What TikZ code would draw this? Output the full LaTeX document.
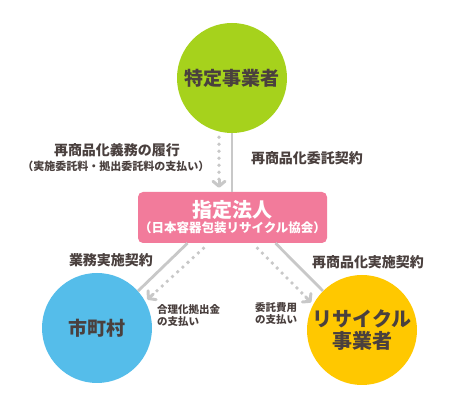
\documentclass[tikz,border=0pt]{standalone}
\usepackage{fontspec}
\setmainfont{Noto Sans CJK JP}
\usetikzlibrary{arrows.meta,calc}
\definecolor{linegray}{HTML}{C8C8C8}
\definecolor{textbrown}{HTML}{4A403E}
\definecolor{makergreen}{HTML}{A6D21C}
\definecolor{cityblue}{HTML}{55BDEA}
\definecolor{recyclerorange}{HTML}{FFC800}
\definecolor{corppink}{HTML}{F27B9B}

\begin{document}
\begin{tikzpicture}[x=1pt,y=-1pt,
  actor/.style={circle, minimum size=110pt, inner sep=0pt, align=center,
    text=textbrown, font=\fontsize{19}{22}\selectfont\bfseries},
  solidline/.style={draw=linegray, line width=2.8pt},
  dotline/.style={draw=linegray, line width=3.8pt, line cap=round,
    dash pattern=on 0pt off 7pt},
  tipline/.style={draw=linegray, line width=3pt, solid, line cap=round,
    -{Straight Barb[length=5pt,width=12pt,round]}},
  note/.style={text=textbrown, align=center, inner sep=0pt},
  ]
\useasboundingbox (0,0) rectangle (467,411);

% the four parties
\node[actor, fill=makergreen] (tokutei) at (232,78) {特定事業者};
\node[actor, fill=cityblue] (shicho) at (97,328) {市町村};
\node[actor, fill=recyclerorange, font=\fontsize{20}{22}\selectfont\bfseries] (recycler) at (362,330) {リサイクル\\事業者};
\node[fill=corppink, rounded corners=5pt, minimum width=189pt, minimum height=51pt,
  align=center, text=white, inner sep=0pt] (hojin) at (232.5,217.5)
  {{\fontsize{20}{24}\selectfont\bfseries 指定法人}\\[1pt]
   {\fontsize{12.5}{14}\selectfont\bfseries （日本容器包装リサイクル協会）}};

% connectors
\coordinate (pay-top-a) at ([xshift=-13pt,yshift=-4pt]tokutei.south);
\coordinate (pay-top-b) at ([xshift=-13.5pt,yshift=4pt]hojin.north);
\coordinate (pay-left-a) at ([xshift=-29pt,yshift=-5pt]hojin.south);
\coordinate (pay-left-b) at ([xshift=3pt]shicho.31);
\coordinate (pay-right-a) at ([xshift=25pt,yshift=-5pt]hojin.south);
\coordinate (pay-right-b) at ([xshift=-3pt]recycler.150);

\draw[solidline] (tokutei.south) -- (hojin.north -| tokutei.south);
\draw[dotline] (pay-top-a) -- ($(pay-top-b)!8pt!(pay-top-a)$) edge[tipline] (pay-top-b);
\draw[solidline] ([xshift=-45pt]hojin.south) -- (shicho.42);
\draw[dotline] (pay-left-a) -- ($(pay-left-b)!8pt!(pay-left-a)$) edge[tipline] (pay-left-b);
\draw[solidline] ([xshift=43pt]hojin.south) -- (recycler.135);
\draw[dotline] (pay-right-a) -- ($(pay-right-b)!8pt!(pay-right-a)$) edge[tipline] (pay-right-b);

% labels
\node[note, font=\fontsize{14}{16}\selectfont\bfseries] (lbl-gimu) at (117,150) {再商品化義務の履行};
\node[note, font=\fontsize{11}{13}\selectfont\bfseries] (lbl-shiharai) at (116,166) {（実施委託料・拠出委託料の支払い）};
\node[note, font=\fontsize{14}{16}\selectfont\bfseries] (lbl-itaku) at (307,158) {再商品化委託契約};
\node[note, font=\fontsize{14}{16}\selectfont\bfseries] (lbl-gyomu) at (111,260) {業務実施契約};
\node[note, font=\fontsize{14}{16}\selectfont\bfseries] (lbl-jisshi) at (368,262) {再商品化実施契約};
\node[note, align=left, anchor=west, font=\fontsize{10.5}{12}\selectfont\bfseries] (lbl-kyoshutsu) at (157,316) {合理化拠出金\\の支払い};
\node[note, align=left, anchor=west, font=\fontsize{10.5}{12}\selectfont\bfseries] (lbl-hiyo) at (255,314) {委託費用\\の支払い};
\end{tikzpicture}
\end{document}
